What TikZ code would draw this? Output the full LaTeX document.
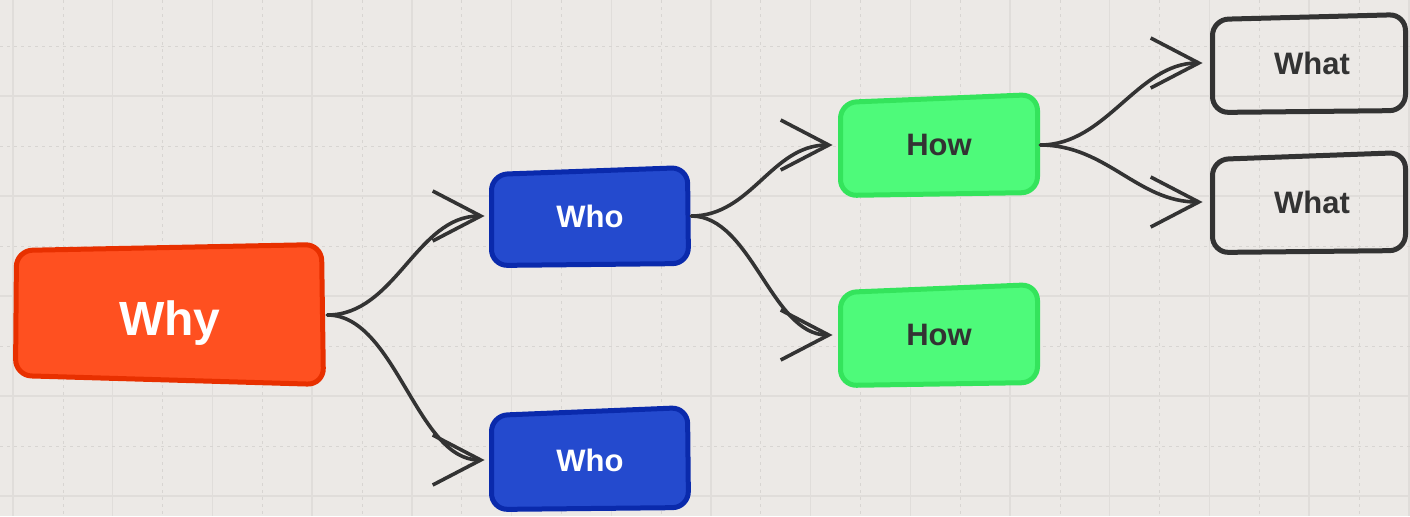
\documentclass[tikz,border=0pt]{standalone}
\usepackage{fontspec}
\setmainfont{Liberation Sans}
\usetikzlibrary{arrows.meta}

\definecolor{paper}{RGB}{236,233,230}
\definecolor{gridmajor}{RGB}{224,221,218}
\definecolor{gridminor}{RGB}{216,213,210}
\definecolor{whyfill}{RGB}{255,80,32}
\definecolor{whyline}{RGB}{232,48,0}
\definecolor{whofill}{RGB}{36,74,206}
\definecolor{wholine}{RGB}{10,42,172}
\definecolor{howfill}{RGB}{78,250,122}
\definecolor{howline}{RGB}{52,228,92}
\definecolor{ink}{RGB}{51,51,51}

\begin{document}
\begin{tikzpicture}[x=0.5pt,y=-0.5pt,
  box/.style={line width=2.5pt, rounded corners=8pt, line join=round},
  whybox/.style={box, draw=whyline, fill=whyfill},
  whobox/.style={box, draw=wholine, fill=whofill},
  howbox/.style={box, draw=howline, fill=howfill},
  whatbox/.style={box, draw=ink},
  tag/.style={inner sep=0pt, minimum width=101pt, minimum height=50pt,
    font=\bfseries\fontsize{15.5}{17}\selectfont},
  link/.style={draw=ink, line width=1.8pt, line cap=round, line join=round,
    -{Straight Barb[length=24pt,width=25pt]}},
]
\useasboundingbox (0,0) rectangle (1410,516);
\fill[paper] (0,0) rectangle (1410,516);

% background grid
\begin{scope}
  \clip (0,0) rectangle (1410,516);
  \foreach \i in {0,...,14} {
    \draw[gridmajor, line width=0.7pt] ({13+99.7*\i},0) -- ++(0,516);
    \draw[gridminor, line width=0.45pt, dash pattern=on 1.5pt off 2pt] ({63+99.7*\i},0) -- ++(0,516);
  }
  \foreach \j in {0,...,5} {
    \draw[gridmajor, line width=0.7pt] (0,{-4+100*\j}) -- ++(1410,0);
    \draw[gridminor, line width=0.45pt, dash pattern=on 1.5pt off 2pt] (0,{46+100*\j}) -- ++(1410,0);
  }
\end{scope}

% box outlines
\draw[whybox] (16.5,250.5) -- (321.5,244.5) -- (323.5,384.5) -- (15.5,375.5) -- cycle;
\draw[whobox] (491.5,174.5) -- (687.5,167.5) -- (688.5,263.5) -- (491.5,265.5) -- cycle;
\draw[whobox] (491.5,415.5) -- (687.5,407.5) -- (688.5,507.5) -- (491.5,509.5) -- cycle;
\draw[howbox] (840.5,102.5) -- (1037.5,94.5) -- (1037.5,192.5) -- (840.5,195.5) -- cycle;
\draw[howbox] (840.5,292.5) -- (1037.5,284.5) -- (1037.5,382.5) -- (840.5,385.5) -- cycle;
\draw[whatbox] (1212.5,19.5) -- (1405.5,14.5) -- (1405.5,110.5) -- (1212.5,112.5) -- cycle;
\draw[whatbox] (1212.5,159.5) -- (1405.5,152.5) -- (1405.5,250.5) -- (1212.5,252.5) -- cycle;

% labels (the Why text sits a little below the node's centre line)
\node[tag, minimum width=157pt, minimum height=70pt, text=white,
  text height=22pt, text depth=1.6pt,
  font=\bfseries\fontsize{24}{27}\selectfont] (why) at (170,315) {Why};
\node[tag, text=white] (whoA) at (590,216) {Who};
\node[tag, text=white] (whoB) at (590,460) {Who};
\node[tag, text=ink] (howA) at (939,145) {How};
\node[tag, text=ink] (howB) at (939,335) {How};
\node[tag, text=ink, minimum width=102pt] (whatA) at (1312,63) {What};
\node[tag, text=ink, minimum width=102pt] (whatB) at (1312,202) {What};

% connectors
\draw[link, shorten >=2pt] (why.east) .. controls +(68,0) and +(-72,0) .. (whoA.west);
\draw[link, shorten >=2pt] (why.east) .. controls +(68,0) and +(-72,0) .. (whoB.west);
\draw[link, shorten >=2.5pt] (whoA.east) .. controls +(60,0) and +(-66,0) .. (howA.west);
\draw[link, shorten >=2.5pt] (whoA.east) .. controls +(60,0) and +(-66,0) .. (howB.west);
\draw[link, shorten >=3.5pt] (howA.east) .. controls +(66,0) and +(-72,0) .. (whatA.west);
\draw[link, shorten >=3.5pt] (howA.east) .. controls +(66,0) and +(-72,0) .. (whatB.west);
\end{tikzpicture}
\end{document}
